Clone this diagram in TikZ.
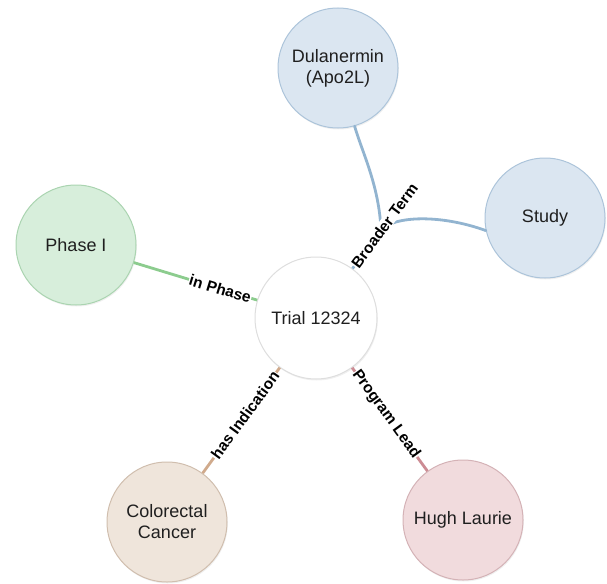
\documentclass[tikz,border=0pt]{standalone}
\usepackage{fontspec}
\setmainfont{Liberation Sans}
\usetikzlibrary{shadows}
\definecolor{bfill}{RGB}{219,230,241}
\definecolor{bdraw}{RGB}{172,196,218}
\definecolor{bline}{RGB}{146,180,208}
\definecolor{gfill}{RGB}{215,238,219}
\definecolor{gdraw}{RGB}{170,212,176}
\definecolor{gline}{RGB}{140,204,142}
\definecolor{cfill}{RGB}{239,229,219}
\definecolor{cdraw}{RGB}{208,190,174}
\definecolor{cline}{RGB}{208,170,140}
\definecolor{pfill}{RGB}{241,219,221}
\definecolor{pdraw}{RGB}{212,178,182}
\definecolor{pline}{RGB}{204,140,148}
\tikzset{
  ent/.style={circle, minimum size=120pt, inner sep=0pt, line width=1pt, align=center,
    font=\fontsize{18}{21}\selectfont, text=black!88,
    drop shadow={opacity=0.12, shadow xshift=0.8pt, shadow yshift=-1.5pt}},
  rel/.style={line width=2.8pt},
  rlab/.style={sloped, fill=white, inner sep=0.6pt, text=black, font=\bfseries\fontsize{15.5}{17}\selectfont}
}
\begin{document}
\begin{tikzpicture}[x=1pt,y=-1pt]
\useasboundingbox (0,0) rectangle (607,583);
\node[ent, fill=white, draw=black!13, minimum size=122pt] (trial) at (316,318) {Trial 12324};
\node[ent, fill=bfill, draw=bdraw] (dul) at (338,68) {Dulanermin\\(Apo2L)};
\node[ent, fill=bfill, draw=bdraw] (study) at (545,218) {Study};
\node[ent, fill=gfill, draw=gdraw] (phase) at (76,245) {Phase I};
\node[ent, fill=cfill, draw=cdraw] (crc) at (167,522) {Colorectal\\Cancer};
\node[ent, fill=pfill, draw=pdraw] (hugh) at (463,520) {Hugh Laurie};
\coordinate (bt) at (381,230);
\draw[rel, bline, line cap=round] (bt) .. controls (379,185) and (362,152) .. (dul);
\draw[rel, bline, line cap=round] (bt) .. controls (394,216) and (440,214) .. (study.192);
\draw[rel, bline] (trial) -- node[rlab, pos=1.12] {Broader Term} (bt);
\draw[rel, gline] (phase) -- node[rlab, pos=0.70] {in Phase} (trial);
\draw[rel, cline] (crc) -- node[rlab, pos=0.55] {has Indication} (trial);
\draw[rel, pline] (trial) -- node[rlab, pos=0.45] {Program Lead} (hugh);
\end{tikzpicture}
\end{document}
